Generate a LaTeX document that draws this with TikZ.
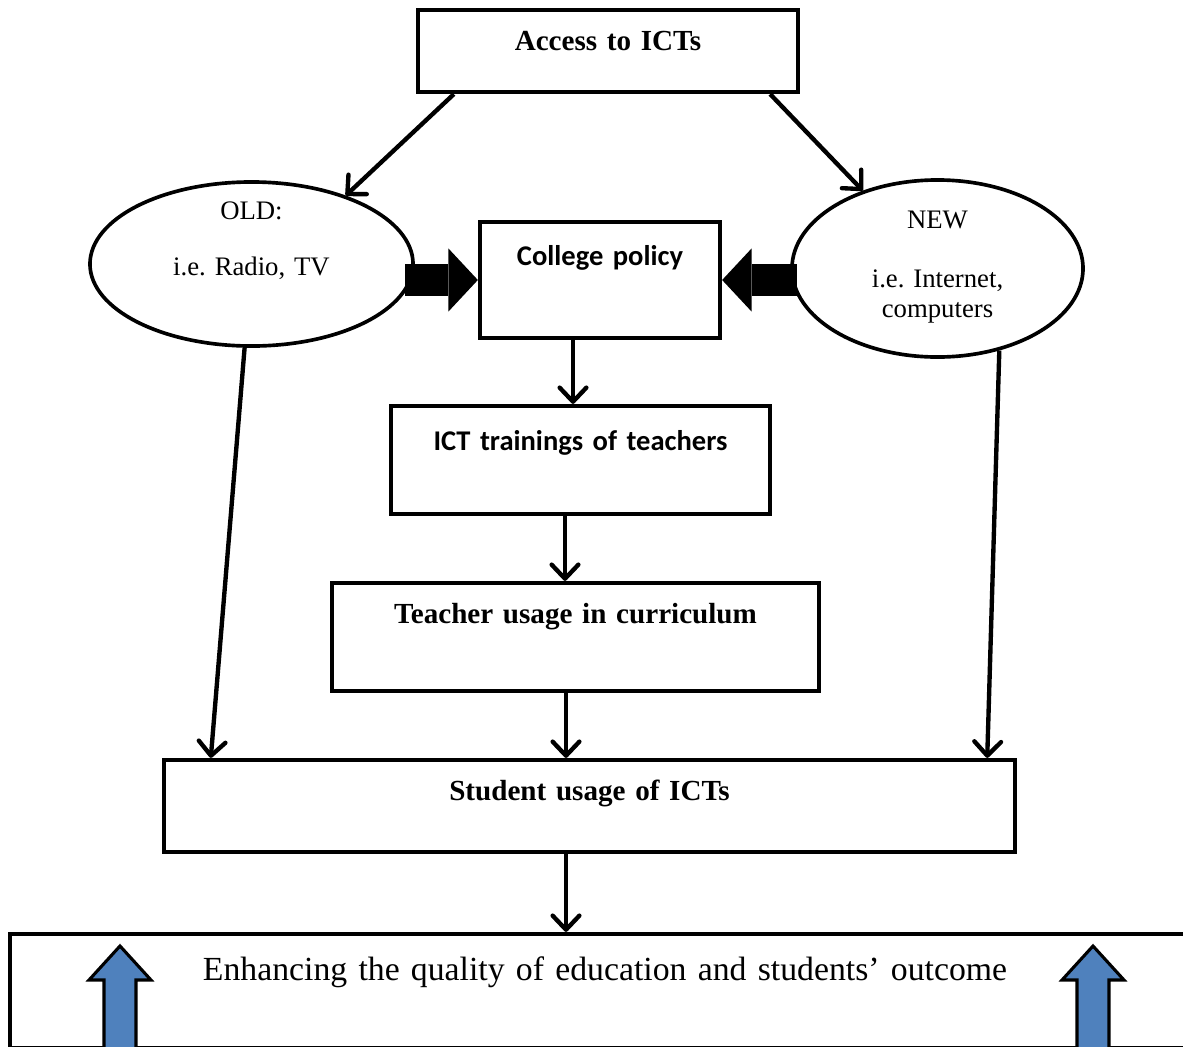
\documentclass[tikz,border=0pt]{standalone}
\usepackage{fontspec}
\setmainfont{Liberation Serif}
\newfontfamily\calibri{Carlito}
\usetikzlibrary{arrows.meta,shapes.geometric}
\definecolor{ictblue}{RGB}{79,129,189}
\frenchspacing

\begin{document}
\begin{tikzpicture}[x=0.025cm, y=-0.025cm,
  box/.style = {shape=rectangle, draw, line width=3pt, inner sep=0pt,
    align=center, font=\fontsize{20.7}{24}\selectfont\bfseries},
  oval/.style = {shape=ellipse, draw, line width=2.6pt, inner sep=0pt,
    align=center, text height=0pt, font=\fontsize{19}{21.3}\selectfont},
  sansbox/.style = {box, font=\fontsize{20.3}{24}\calibri\bfseries},
  link/.style = {line width=3.1pt, -{Straight Barb[length=10pt,width=19pt,round]}},
  fat/.style = {line width=23pt, -{Triangle[length=21pt,width=45pt,line width=0pt]}},
  bluearrow/.style = {draw, line width=2.2pt, fill=ictblue, line join=miter}]
  \useasboundingbox (0,0) rectangle (1183,1046);
  \clip (0,0) rectangle (1183,1046);
  \fill[white] (0,0) rectangle (1183,1046);

  \node[box, text width=9.5cm, text height=1cm, text depth=1.05cm] (access) at (608,51) {Access to ICTs};
  \node[oval, text width=5cm, text depth=2.2cm, minimum width=8.075cm, minimum height=4.1cm]
    (old) at (251.5,264) {OLD:\\[18.5pt]i.e. Radio, TV};
  \node[oval, text width=3.6cm, text depth=1.975cm, minimum width=7.275cm, minimum height=4.425cm]
    (new) at (937.5,268.5) {NEW\\[20pt]i.e. Internet,\\computers};
  \node[sansbox, text width=6cm, text height=1.075cm, text depth=1.825cm] (policy) at (600,280) {College policy};
  \node[sansbox, text width=9.475cm, text height=1.1cm, text depth=1.6cm] (training) at (580.5,460) {ICT trainings of teachers};
  \node[box, text width=12.175cm, text height=1cm, text depth=1.7cm] (teacher) at (575.5,637) {Teacher usage in curriculum};
  \node[box, text width=21.275cm, text height=1cm, text depth=1.3cm] (student) at (589.5,806) {Student usage of ICTs};
  \node[box, font=\fontsize{24}{29}\selectfont, text width=29.75cm, text height=1.15cm, text depth=1.7cm]
    (outcome) at (605,991) {Enhancing the quality of education and students’ outcome};

  \draw[link] ([xshift=0.95cm]access.south west) -- (old.36);
  \draw[link] ([xshift=-0.75cm]access.south east) -- (new);
  \draw[link] (old) -- ([xshift=1.225cm]student.north west);
  \draw[link] (new.307) -- ([xshift=-0.75cm]student.north east);
  \foreach \a/\b/\x in {policy/training/573, training/teacher/565, teacher/student/566, student/outcome/566}
    \draw[link] (\x,0 |- \a.south) -- (\x,0 |- \b.north);

  \draw[fat] (405,0 |- policy.west) -- (policy.west);
  \draw[fat] (797,0 |- policy.east) -- (policy.east);

  \foreach \x in {120,1093}
    \draw[bluearrow] (\x-16,1060) -- (\x-16,980) -- (\x-31,980) -- (\x,946)
      -- (\x+31,980) -- (\x+16,980) -- (\x+16,1060);
\end{tikzpicture}
\end{document}
